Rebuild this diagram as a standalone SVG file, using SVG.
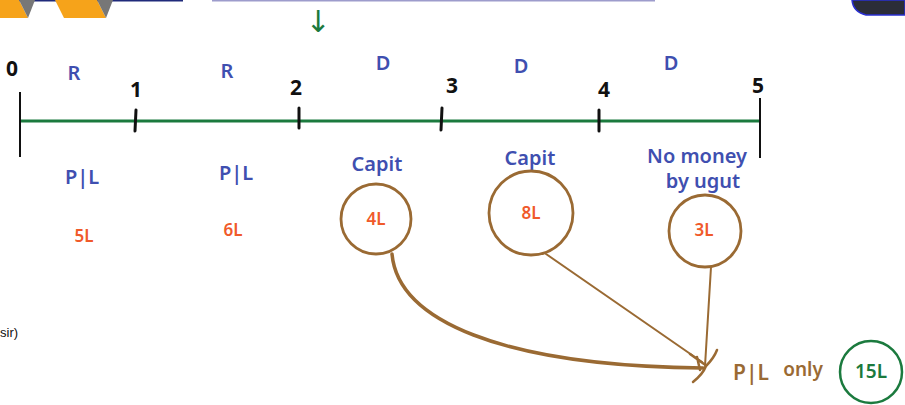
<svg xmlns="http://www.w3.org/2000/svg" width="905" height="405" viewBox="0 0 905 405">
  <style>
    .hand { font-family: "Noto Sans", "DejaVu Sans", sans-serif; }
    .num { fill: #111; font-size: 21px; font-weight: bold; }
    .blue { fill: #3f4fb0; font-size: 20px; font-weight: 600; }
    .amt { fill: #f05a2a; font-size: 17px; font-weight: 600; }
    .tick { stroke: #111; stroke-width: 3; stroke-linecap: round; }
    .ring { fill: none; stroke: #9a6a33; stroke-width: 2.8; }
    .flow { fill: none; stroke: #9a6a33; stroke-linecap: round; }
  </style>

  <!-- page fragments along the upper edge -->
  <g id="header">
    <line x1="0" y1="0.5" x2="183" y2="0.5" stroke="#1f2a7a" stroke-width="2"/>
    <polygon points="0,0 19,0 28,18 0,18" fill="#f6a31a"/>
    <polygon points="19,0 35,0 28,18" fill="#777"/>
    <polygon points="55,0 97,0 106,18 64,18" fill="#f6a31a"/>
    <polygon points="97,0 113,0 106,18" fill="#777"/>
    <line x1="212" y1="0.5" x2="655" y2="0.5" stroke="#9d9ccc" stroke-width="2"/>
    <path d="M852,0 L905,0 L905,15 L866,15 Q853,12 852,0 Z" fill="#2b2d38" stroke="#2a2fd0" stroke-width="1.5"/>
    <text x="0" y="337" font-family="Liberation Sans, Arial, sans-serif" font-size="13" fill="#111">sir)</text>
  </g>

  <!-- green marker -->
  <text class="hand" x="318" y="32" font-size="30" fill="#1b7a3e" text-anchor="middle">↓</text>

  <!-- timeline -->
  <g id="timeline">
    <line x1="20" y1="121" x2="760" y2="121" stroke="#1b7a3e" stroke-width="3"/>
    <line x1="20" y1="92" x2="20" y2="157" stroke="#111" stroke-width="2"/>
    <line x1="760" y1="98" x2="760" y2="158" stroke="#111" stroke-width="2"/>
    <line class="tick" x1="136" y1="110" x2="135" y2="131"/>
    <line class="tick" x1="299" y1="108" x2="299" y2="128"/>
    <line class="tick" x1="442" y1="108" x2="441" y2="130"/>
    <line class="tick" x1="599" y1="110" x2="599" y2="131"/>
    <g class="hand num" text-anchor="middle">
      <text x="12" y="76">0</text>
      <text x="136" y="97">1</text>
      <text x="296" y="95">2</text>
      <text x="452" y="93">3</text>
      <text x="604" y="97">4</text>
      <text x="758" y="93">5</text>
    </g>
    <g class="hand blue" text-anchor="middle">
      <text x="74" y="80">R</text>
      <text x="227" y="78">R</text>
      <text x="383" y="70">D</text>
      <text x="521" y="73">D</text>
      <text x="671" y="70">D</text>
    </g>
  </g>

  <!-- year labels -->
  <g id="year1" class="hand">
    <text class="blue" x="82" y="184" text-anchor="middle">P|L</text>
    <text class="amt" x="84" y="242" text-anchor="middle">5L</text>
  </g>
  <g id="year2" class="hand">
    <text class="blue" x="236" y="180" text-anchor="middle">P|L</text>
    <text class="amt" x="233" y="236" text-anchor="middle">6L</text>
  </g>
  <g id="year3" class="hand">
    <text class="blue" x="377" y="171" text-anchor="middle">Capit</text>
    <circle class="ring" cx="376" cy="219" r="35"/>
    <text class="amt" x="376" y="225" text-anchor="middle">4L</text>
  </g>
  <g id="year4" class="hand">
    <text class="blue" x="530" y="165" text-anchor="middle">Capit</text>
    <circle class="ring" cx="531" cy="213" r="42"/>
    <text class="amt" x="531" y="219" text-anchor="middle">8L</text>
  </g>
  <g id="year5" class="hand">
    <text class="blue" x="697" y="163" text-anchor="middle" font-size="17">No money</text>
    <text class="blue" x="703" y="188" text-anchor="middle" font-size="17">by ugut</text>
    <circle class="ring" cx="705" cy="231" r="36"/>
    <text class="amt" x="704" y="236" text-anchor="middle">3L</text>
  </g>

  <!-- flows into the total -->
  <g id="connectors">
    <path class="flow" stroke-width="3.5" d="M392,254 C398,320 500,366 703,368"/>
    <path class="flow" stroke-width="2" d="M546,254 L702,362"/>
    <path class="flow" stroke-width="2" d="M711,267 L705,366"/>
    <path class="flow" stroke-width="2.5" d="M690,354 L704,364 M693,382 Q703,374 706,366 Q714,358 717,350 M697,357 L700,370"/>
  </g>

  <!-- total -->
  <g id="total" class="hand" font-weight="600">
    <text x="751" y="380" text-anchor="middle" font-size="21" fill="#9a6a33">P|L</text>
    <text x="803" y="376" text-anchor="middle" font-size="19" fill="#9a6a33">only</text>
    <circle cx="871" cy="372" r="31" fill="none" stroke="#1b7a3e" stroke-width="2.5"/>
    <text x="871" y="378" text-anchor="middle" font-size="19" fill="#1b7a3e">15L</text>
  </g>
</svg>
